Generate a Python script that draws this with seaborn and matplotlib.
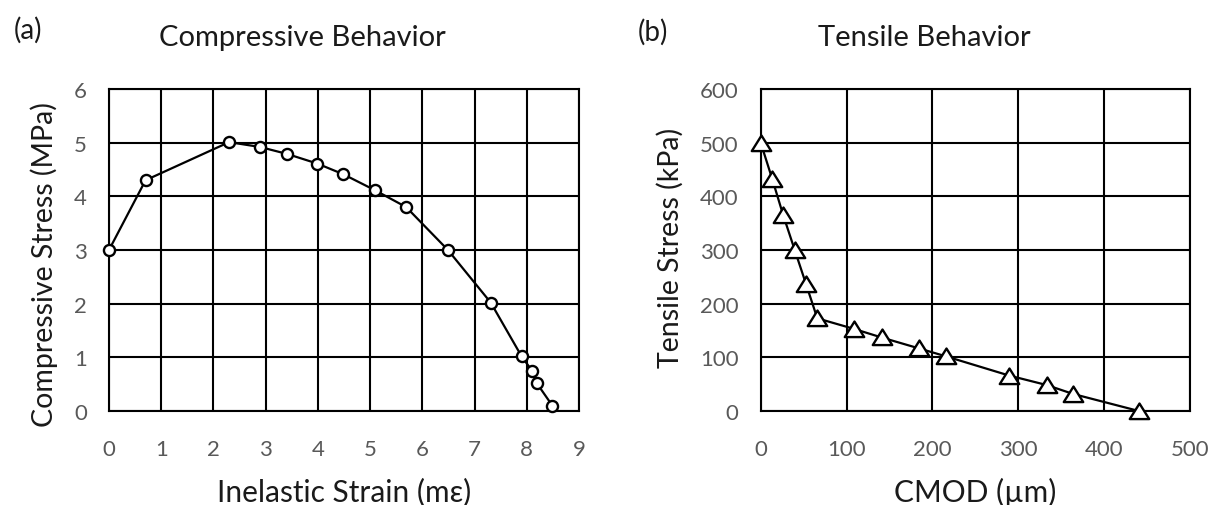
import matplotlib
matplotlib.use("Agg")
import matplotlib.pyplot as plt
import seaborn as sns
import numpy as np
from matplotlib.path import Path

# Compressive behaviour: inelastic strain (milli-strain) vs stress (MPa)
comp_strain = [0.0, 0.70, 2.30, 2.89, 3.41, 3.99, 4.49, 5.10, 5.69, 6.49, 7.31, 7.90, 8.10, 8.19, 8.49]
comp_stress = [3.00, 4.30, 5.01, 4.92, 4.79, 4.61, 4.41, 4.11, 3.80, 3.00, 2.02, 1.02, 0.75, 0.52, 0.10]

# Tensile behaviour: crack mouth opening displacement (um) vs stress (kPa)
cmod = [0.0, 13.5, 26.0, 39.5, 52.7, 65.9, 109.0, 140.8, 184.0, 215.4, 289.5, 333.0, 364.0, 440.4]
tens_stress = [500.0, 432.0, 366.0, 300.6, 237.0, 172.7, 152.8, 137.0, 116.8, 102.0, 66.0, 48.4, 31.7, 0.0]

comp_xticks = list(range(0, 10))
comp_yticks = list(range(0, 7))
tens_xticks = [0, 100, 200, 300, 400, 500]
tens_yticks = [0, 100, 200, 300, 400, 500, 600]

sns.set_theme(style="white")
FAM = ["Lato", "DejaVu Sans"]
plt.rcParams["font.family"] = FAM

W, H = 1210, 506
fig = plt.figure(figsize=(W / 100, H / 100), dpi=100)
fig.patch.set_facecolor("white")


def px_axes(x0, y0, x1, y1):
    return fig.add_axes([x0 / W, 1 - y1 / H, (x1 - x0) / W, (y1 - y0) / H])


ax1 = px_axes(109, 90, 579, 412)
ax2 = px_axes(760.7, 90, 1190, 412)

# wide, flat triangle marker
tri = Path([(0, 0.82), (-1, -0.78), (1, -0.78), (0, 0.82)],
           [Path.MOVETO, Path.LINETO, Path.LINETO, Path.CLOSEPOLY])

sns.lineplot(x=comp_strain, y=comp_stress, ax=ax1, sort=False, color="black",
             lw=1.6, marker="o", markersize=8, markerfacecolor="white",
             markeredgecolor="black", markeredgewidth=1.7, clip_on=False, zorder=5)
sns.lineplot(x=cmod, y=tens_stress, ax=ax2, sort=False, color="black",
             lw=1.6, marker=tri, markersize=14, markerfacecolor="white",
             markeredgecolor="black", markeredgewidth=1.7, clip_on=False, zorder=5)

tick_color = "#595959"
for ax, xt, yt in [(ax1, comp_xticks, comp_yticks), (ax2, tens_xticks, tens_yticks)]:
    ax.set_xlim(xt[0], xt[-1])
    ax.set_ylim(yt[0], yt[-1])
    ax.set_xticks(xt)
    ax.set_yticks(yt)
    ax.grid(True, color="black", lw=1.5)
    ax.set_axisbelow(True)
    for s in ax.spines.values():
        s.set_visible(True)
        s.set_color("black")
        s.set_linewidth(1.5)
    ax.tick_params(axis="both", length=0, labelsize=16, labelcolor=tick_color)
    ax.tick_params(axis="x", pad=20)
    ax.tick_params(axis="y", pad=16)
    ax.set_xlabel("")
    ax.set_ylabel("")

txt = dict(color="#1a1a1a", family=FAM)
fig.text(302 / W, 1 - 38 / H, "Compressive Behavior", ha="center", va="center", fontsize=21, **txt)
fig.text(924 / W, 1 - 38 / H, "Tensile Behavior", ha="center", va="center", fontsize=21, **txt)
fig.text(28 / W, 1 - 30 / H, "(a)", ha="center", va="center", fontsize=20, **txt)
fig.text(653 / W, 1 - 32 / H, "(b)", ha="center", va="center", fontsize=20, **txt)

fig.text(344 / W, 1 - 492 / H, "Inelastic Strain (mε)", ha="center", va="center", fontsize=21.5, **txt)
fig.text(975 / W, 1 - 492 / H, "CMOD (µm)", ha="center", va="center", fontsize=21.5, **txt)
fig.text(44 / W, 1 - 265 / H, "Compressive Stress (MPa)", ha="center", va="center",
         rotation=90, fontsize=20.5, **txt)
fig.text(670 / W, 1 - 248 / H, "Tensile Stress (kPa)", ha="center", va="center",
         rotation=90, fontsize=20.5, **txt)

fig.savefig("out.png", dpi=100, facecolor="white")
